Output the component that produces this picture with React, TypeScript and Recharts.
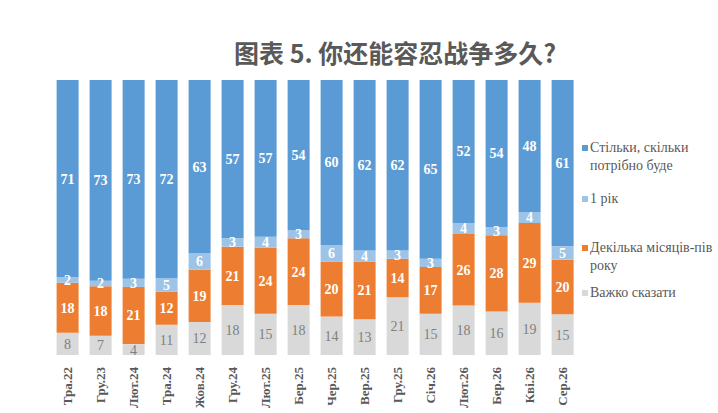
import { Bar, BarChart, LabelList, XAxis, YAxis } from 'recharts'

const categories = [
  'Тра.22', 'Гру.23', 'Лют.24', 'Тра.24', 'Жов.24', 'Гру.24', 'Лют.25', 'Бер.25',
  'Чер.25', 'Вер.25', 'Гру.25', 'Січ.26', 'Лют.26', 'Бер.26', 'Кві.26', 'Сер.26',
]
const asLongAsNeeded = [71, 73, 73, 72, 63, 57, 57, 54, 60, 62, 62, 65, 52, 54, 48, 61]
const oneYear = [2, 2, 3, 5, 6, 3, 4, 3, 6, 4, 3, 3, 4, 3, 4, 5]
const fewMonths = [18, 18, 21, 12, 19, 21, 24, 24, 20, 21, 14, 17, 26, 28, 29, 20]
const hardToSay = [8, 7, 4, 11, 12, 18, 15, 18, 14, 13, 21, 15, 18, 16, 19, 15]

const series = [
  { key: 'hard', name: 'Важко сказати', color: '#D9D9D9', text: '#7F7F7F', bold: false },
  { key: 'months', name: 'Декілька місяців-пів року', color: '#ED7D31', text: '#ffffff', bold: true },
  { key: 'year', name: '1 рік', color: '#9DC3E6', text: '#ffffff', bold: true },
  { key: 'needed', name: 'Стільки, скільки потрібно буде', color: '#5B9BD5', text: '#ffffff', bold: true },
]

const data = categories.map((name, i) => ({
  name,
  needed: asLongAsNeeded[i],
  year: oneYear[i],
  months: fewMonths[i],
  hard: hardToSay[i],
}))

const legendTops = [139, 190, 239, 284]

const serif = "'Liberation Serif', 'Times New Roman', Tinos, 'DejaVu Serif', 'Noto Serif', serif"

function Tick({ x, y, payload }: any) {
  return (
    <text
      x={x}
      y={y + 4}
      transform={`rotate(-90, ${x}, ${y + 4})`}
      textAnchor='end'
      dy={4}
      style={{ fontFamily: serif }}
      fontSize={13}
      fontWeight={700}
      fill='#595959'
    >
      {payload.value}
    </text>
  )
}

export default function App() {
  const legend = [...series].reverse()
  return (
    <div style={{ position: 'absolute', left: 0, top: 0, width: 718, height: 413, background: '#fff' }}>
      <div
        style={{
          position: 'absolute',
          left: 200,
          top: 34,
          width: 390,
          textAlign: 'center',
          fontFamily: "'Noto Sans CJK SC', sans-serif",
          fontWeight: 700,
          fontSize: 25,
          color: '#595959',
          whiteSpace: 'nowrap',
        }}
      >
        图表 5. 你还能容忍战争多久?
      </div>
      <BarChart
        width={718}
        height={413}
        data={data}
        stackOffset='expand'
        barCategoryGap='17%'
        margin={{ top: 80, right: 139, bottom: 8, left: 51 }}
      >
        <XAxis
          dataKey='name'
          axisLine={false}
          tickLine={false}
          interval={0}
          height={50}
          tick={<Tick />}
        />
        <YAxis hide domain={[0, 1]} />
        {series.map((s) => (
          <Bar key={s.key} dataKey={s.key} stackId='a' fill={s.color} isAnimationActive={false}>
            <LabelList
              dataKey={s.key}
              position='center'
              fill={s.text}
              style={{ fontFamily: serif }}
              fontSize={14}
              fontWeight={s.bold ? 700 : 400}
            />
          </Bar>
        ))}
      </BarChart>
      {legend.map((s, i) => (
        <div
          key={s.key}
          style={{
            position: 'absolute',
            left: 582,
            top: legendTops[i],
            width: 134,
            fontFamily: serif,
            fontSize: 14,
            lineHeight: '18px',
            color: '#595959',
          }}
        >
          <span
            style={{
              position: 'absolute',
              left: 0,
              top: 6,
              width: 6,
              height: 6,
              background: s.color,
            }}
          />
          <div style={{ marginLeft: 8 }}>{s.name}</div>
        </div>
      ))}
    </div>
  )
}
